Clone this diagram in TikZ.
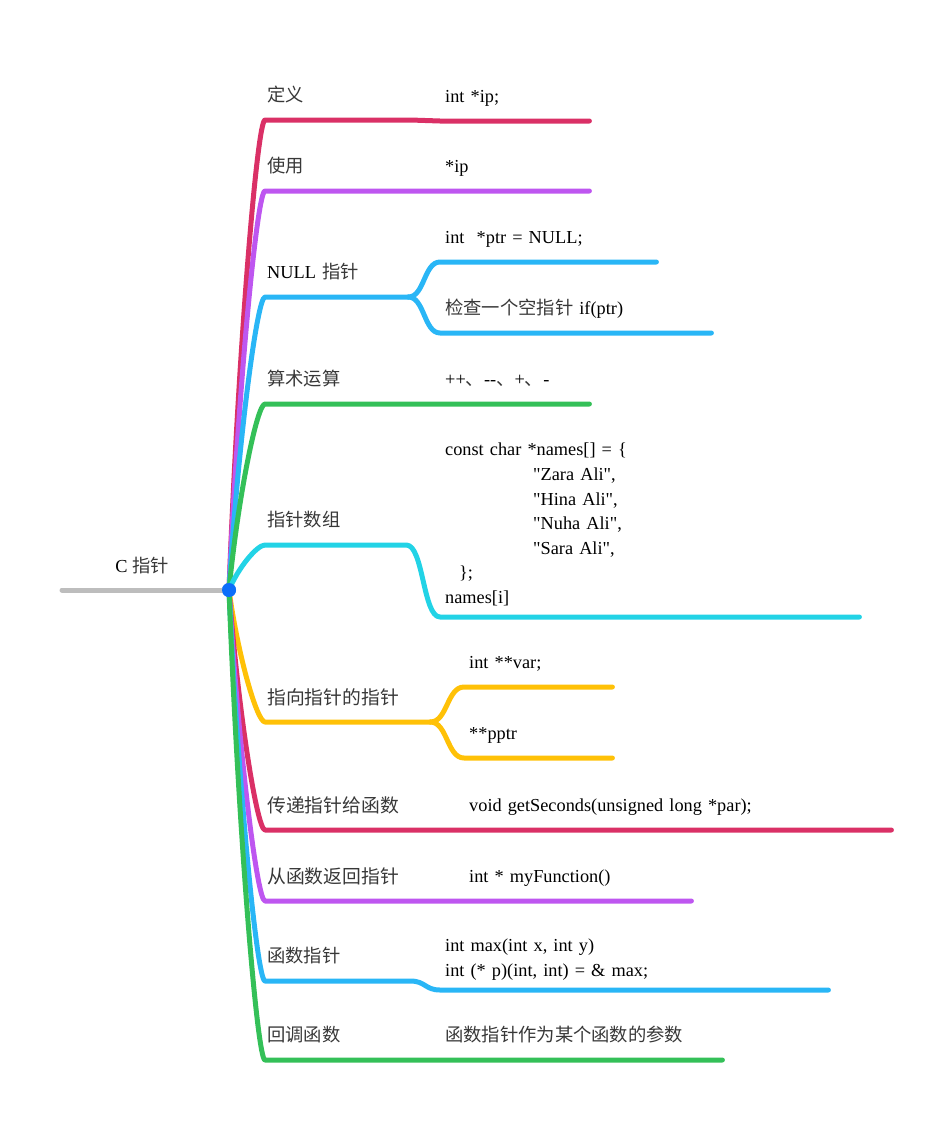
\documentclass[tikz,border=0pt]{standalone}
\usepackage{fontspec}
\setmainfont{Liberation Serif}[Ligatures=TeXOff]
\newfontfamily\cjkfont{Noto Sans CJK SC}
\usepackage{tikz}
\usetikzlibrary{positioning}

\definecolor{mmred}{RGB}{218,48,102}
\definecolor{mmpurple}{RGB}{190,86,240}
\definecolor{mmblue}{RGB}{41,182,246}
\definecolor{mmgreen}{RGB}{52,192,88}
\definecolor{mmcyan}{RGB}{34,211,230}
\definecolor{mmyellow}{RGB}{255,193,7}
\definecolor{mmgrey}{RGB}{189,189,189}
\definecolor{mmdot}{RGB}{12,110,250}

\newcommand{\zh}[1]{{\cjkfont\color{black!78}#1}}
\newcommand{\codesize}{\fontsize{18.3}{24.6}\selectfont}

\tikzstyle{topic} = [anchor=south west, inner xsep=2pt, inner ysep=0pt, text width=141pt, align=left, text height=14pt, text depth=18pt, font=\codesize]
\tikzstyle{bigtopic} = [topic, text width=161pt, text depth=17.5pt, font=\fontsize{18.8}{26}\selectfont]
\tikzstyle{leaf} = [anchor=south west, inner xsep=5pt, inner ysep=0pt, align=left, text height=14pt, text depth=18pt, font=\codesize]
\tikzstyle{branch} = [line width=5pt, line cap=round, line join=round]

\begin{document}
\begin{tikzpicture}[x=1pt, y=-1pt]
	\useasboundingbox (0,0) rectangle (951,1122);

	\node (root) [circle, fill=mmdot, inner sep=0pt, minimum size=14pt] at (229,590) {};
	\coordinate (tail) at (62,590);
	\node (title) [anchor=base, font=\codesize] at (142,572) {C \zh{指针}};

	% topics
	\node (def) [topic] at (265,120) {\zh{定义}};
	\node (use) [topic] at (265,191) {\zh{使用}};
	\node (null) [topic, text width=139pt] at (265,297) {NULL \zh{指针}};
	\node (arith) [topic] at (265,404) {\zh{算术运算}};
	\node (array) [topic, text width=137pt] at (265,545) {\zh{指针数组}};
	\node (pp) [bigtopic] at (265,722) {\zh{指向指针的指针}};
	\node (pass) [bigtopic] at (265,830) {\zh{传递指针给函数}};
	\node (ret) [bigtopic] at (265,901) {\zh{从函数返回指针}};
	\node (fptr) [topic] at (265,981) {\zh{函数指针}};
	\node (cb) [topic] at (265,1060) {\zh{回调函数}};

	% leaves
	\node (defA) [leaf, text width=139pt] at (440,121) {int *ip;};
	\node (useA) [leaf, text width=139pt] at (440,191) {*ip};
	\node (nullA) [leaf, text width=206pt] at (440,262) {int\ \ *ptr = NULL;};
	\node (nullB) [leaf, text width=261pt] at (440,333) {\zh{检查一个空指针} if(ptr)};
	\node (arithA) [leaf, text width=139pt] at (440,404) {++\zh{、}--\zh{、}+\zh{、}-};
	\node (arrayA) [leaf, text width=409pt, text depth=161pt] at (440,617) {const char *names[] = \{\\
		\hspace*{88pt}"Zara Ali",\\
		\hspace*{88pt}"Hina Ali",\\
		\hspace*{88pt}"Nuha Ali",\\
		\hspace*{88pt}"Sara Ali",\\
		\hspace*{14pt}\};\\
		names[i]};
	\node (ppA) [leaf, text width=138pt] at (464,687) {int **var;};
	\node (ppB) [leaf, text width=138pt] at (464,758) {**pptr};
	\node (passA) [leaf, text width=417pt] at (464,830) {void getSeconds(unsigned long *par);};
	\node (retA) [leaf, text width=217pt] at (464,901) {int * myFunction()};
	\node (fptrA) [leaf, text width=378pt, text depth=38pt] at (440,990) {int max(int x, int y)\\int (* p)(int, int) = \& max;};
	\node (cbA) [leaf, text width=272pt] at (440,1060) {\zh{函数指针作为某个函数的参数}};

	% connectors
	\draw [branch, mmgrey] (tail) -- (root.center);
	\draw [branch, mmred] (root.center) .. controls +(9,-235) and +(-8,0) .. (def.south west) -- (def.south east) -- (defA.south west) -- (defA.south east);
	\draw [branch, mmpurple] (root.center) .. controls +(9,-200) and +(-8,0) .. (use.south west) -- (use.south east) -- (useA.south west) -- (useA.south east);
	\draw [branch, mmblue] (root.center) .. controls +(9,-146) and +(-8,0) .. (null.south west) -- (null.south east);
	\draw [branch, mmblue] (null.south east) .. controls +(16,0) and +(-16,0) .. (nullA.south west) -- (nullA.south east);
	\draw [branch, mmblue] (null.south east) .. controls +(16,0) and +(-16,0) .. (nullB.south west) -- (nullB.south east);
	\draw [branch, mmgreen] (root.center) .. controls +(9,-93) and +(-8,0) .. (arith.south west) -- (arith.south east) -- (arithA.south west) -- (arithA.south east);
	\draw [branch, mmcyan] (root.center) .. controls +(9,-22) and +(-8,0) .. (array.south west) -- (array.south east) .. controls +(17,0) and +(-17,0) .. (arrayA.south west) -- (arrayA.south east);
	\draw [branch, mmyellow] (root.center) .. controls +(9,66) and +(-8,0) .. (pp.south west) -- (pp.south east);
	\draw [branch, mmyellow] (pp.south east) .. controls +(17,0) and +(-17,0) .. (ppA.south west) -- (ppA.south east);
	\draw [branch, mmyellow] (pp.south east) .. controls +(17,0) and +(-17,0) .. (ppB.south west) -- (ppB.south east);
	\draw [branch, mmred] (root.center) .. controls +(9,120) and +(-8,0) .. (pass.south west) -- (pass.south east) -- (passA.south west) -- (passA.south east);
	\draw [branch, mmpurple] (root.center) .. controls +(9,155) and +(-8,0) .. (ret.south west) -- (ret.south east) -- (retA.south west) -- (retA.south east);
	\draw [branch, mmblue] (root.center) .. controls +(9,195) and +(-8,0) .. (fptr.south west) -- (fptr.south east) .. controls +(15,0) and +(-15,0) .. (fptrA.south west) -- (fptrA.south east);
	\draw [branch, mmgreen] (root.center) .. controls +(9,235) and +(-8,0) .. (cb.south west) -- (cb.south east) -- (cbA.south west) -- (cbA.south east);

	\node [circle, fill=mmdot, inner sep=0pt, minimum size=14pt] at (root) {};
\end{tikzpicture}
\end{document}
